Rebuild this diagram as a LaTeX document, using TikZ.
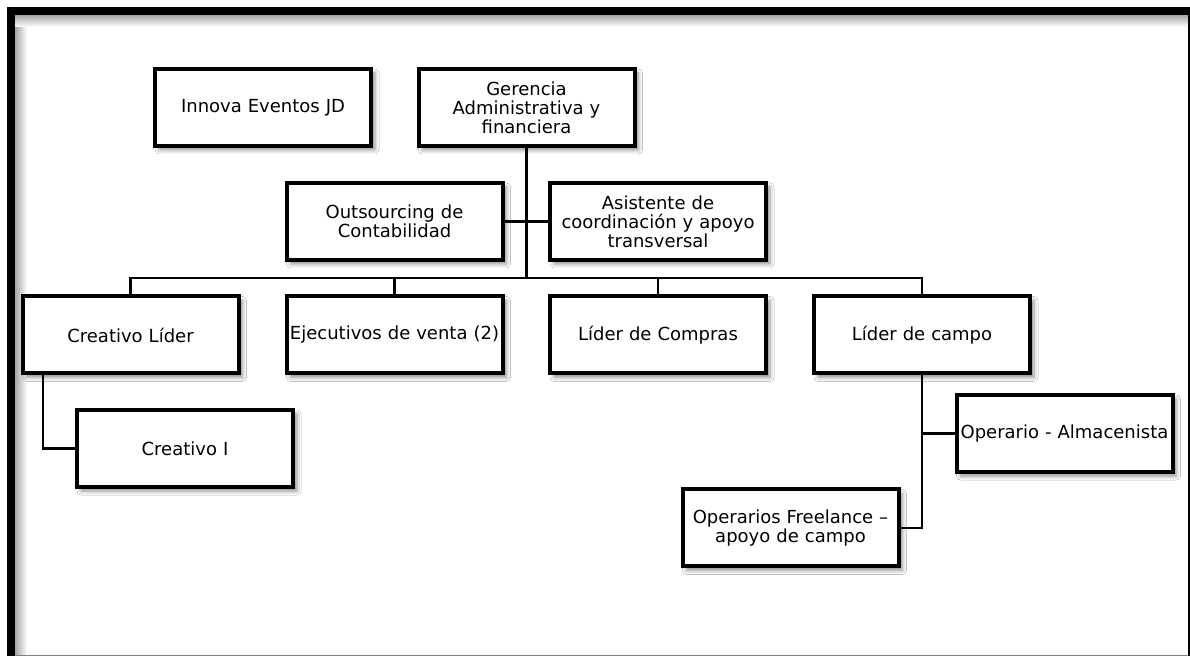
\documentclass[tikz,border=0pt]{standalone}
\usepackage{fontspec}
\setmainfont{DejaVu Sans}
\usepackage{tikz}
\usetikzlibrary{positioning,shadows.blur}
\tikzset{org node/.style={rectangle,draw,fill=white,line width=2pt,outer sep=0pt,minimum width=108pt,minimum height=38.5pt,inner sep=0pt,text width=106pt,align=center,font=\fontsize{9}{9.5}\selectfont,blur shadow={shadow xshift=2pt,shadow yshift=-2pt,shadow blur radius=2pt,shadow opacity=45}},}
\newcommand{\ed}[2]{\path[draw, line width=1.4pt] (#1) -- (#2);}
\newcommand{\edd}[2]{\path[draw, line width=1.4pt] (#1) |- (#2);}

\begin{document}
\begin{tikzpicture}[x=0.5pt,y=-0.5pt]
        \useasboundingbox (0,0) rectangle (1190,656);
        % marco
        \fill[white] (0,0) rectangle (1190,656);
        \shade[left color=black!35, right color=white] (15,15) rectangle (27,655);
        \shade[top color=black!35, bottom color=white] (15,15) rectangle (1188,27);
        \draw[gray, line width=0.6pt] (11,655.3) -- (1190,655.3);
        \draw[line width=0.7pt] (1189,11) -- (1189,656);
        \draw[line width=4pt] (11,656) -- (11,11) -- (1190,11);

        \node[org node] (1) at (526.5,107.5) {Gerencia\\ Administrativa y\\ financiera};
        \node[org node] (2) [left = 23.75pt of 1] {Innova Eventos JD};
        \node[org node] (3) [below left = 18.5pt and 12pt of 1.south] {Outsourcing de\\ Contabilidad};
        \node[org node] (4) [below right = 18.5pt and 11.75pt of 1.south] {Asistente de\\ coordinación y apoyo\\ transversal};
        \node[org node] (6) [below = 18.25pt of 3] {Ejecutivos de venta (2)};
        \node[org node] (7) [below = 18.25pt of 4] {Líder de Compras};
        \node[org node] (5) [left = 24pt of 6] {Creativo Líder};
        \node[org node] (8) [right = 24pt of 7] {Líder de campo};
        \node[org node] (9) [below right = 18.25pt and 27.25pt of 5.south west] {Creativo I};
        \node[org node] (10) [below right = 10.75pt and 17.25pt of 8.south] {\mbox{Operario - Almacenista}};
        \node[org node] (11) [below left = 58pt and 11.75pt of 8.south] {Operarios Freelance –\\ apoyo de campo};
        \coordinate[above = 9.25pt of 6.north] (b);

        \ed{1.south}{1.south |- b}
        \ed{3.east}{4.west}
        \path[draw, line width=1.4pt] (5.north) |- (b) -| (8.north);
        \ed{6.north}{b}
        \ed{7.north}{7.north |- b}
        \edd{[xshift=-43.75pt]5.south}{9.west}
        \edd{8.south}{11.east}
        \ed{8.south |- 10.west}{10.west}
    \end{tikzpicture}
\end{document}
